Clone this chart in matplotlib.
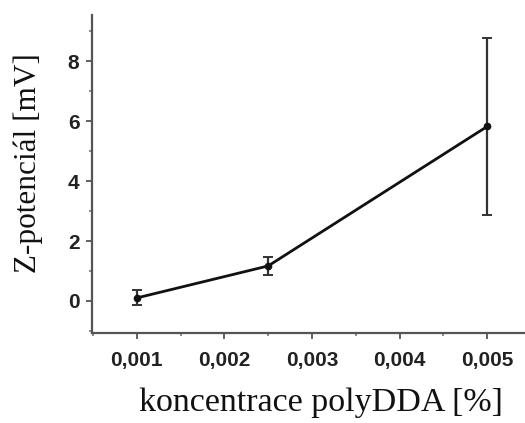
import matplotlib
matplotlib.use("Agg")
import matplotlib.pyplot as plt
from matplotlib.ticker import MultipleLocator

# Z-potential vs. polyDDA concentration
concentration = [0.001, 0.0025, 0.005]
zeta_mv = [0.1, 1.17, 5.83]
zeta_err = [0.25, 0.3, 2.95]

y_ticks = [0, 2, 4, 6, 8]
x_ticks = [0.001, 0.002, 0.003, 0.004, 0.005]
x_tick_labels = ["0,001", "0,002", "0,003", "0,004", "0,005"]

W, H = 525, 423
fig = plt.figure(figsize=(W / 100, H / 100), dpi=100)
ax = fig.add_axes([92 / W, 1 - 333 / H, 1 - 92 / W, (333 - 15) / H])

ax.errorbar(concentration, zeta_mv, yerr=zeta_err, color="#111111",
            ecolor="#333333", elinewidth=1.6, capsize=3.5, capthick=1.4,
            linewidth=2.0, marker="o", markersize=4.5, zorder=3)

ax.set_xlim(0.00049, 0.00543)
ax.set_ylim(-1.07, 9.55)

ax.set_xticks(x_ticks)
ax.set_xticklabels(x_tick_labels)
ax.set_yticks(y_ticks)
ax.xaxis.set_minor_locator(MultipleLocator(0.0005))
ax.yaxis.set_minor_locator(MultipleLocator(1))

for side in ("top", "right"):
    ax.spines[side].set_visible(False)
for side in ("left", "bottom"):
    ax.spines[side].set_color("#555555")
    ax.spines[side].set_linewidth(1.6)

ax.tick_params(which="major", direction="out", length=4, width=1.3,
               color="#555555")
ax.tick_params(which="minor", direction="out", length=2.5, width=1.2,
               color="#777777")
ax.tick_params(axis="x", pad=9)
ax.tick_params(axis="y", pad=5)
for lab in ax.get_xticklabels() + ax.get_yticklabels():
    lab.set_fontfamily("Liberation Sans")
    lab.set_fontweight("bold")
    lab.set_fontsize(15)
    lab.set_color("#222222")

fig.text(321 / W, 1 - 403 / H, "koncentrace polyDDA [%]",
         fontfamily="Liberation Serif", fontsize=24.5, color="#111111",
         ha="center", va="center")
fig.text(28 / W, 1 - 163 / H, "Z-potenciál [mV]",
         fontfamily="Liberation Serif", fontsize=22.5, color="#111111",
         ha="center", va="center", rotation=90)

fig.savefig("out.png", dpi=100)
